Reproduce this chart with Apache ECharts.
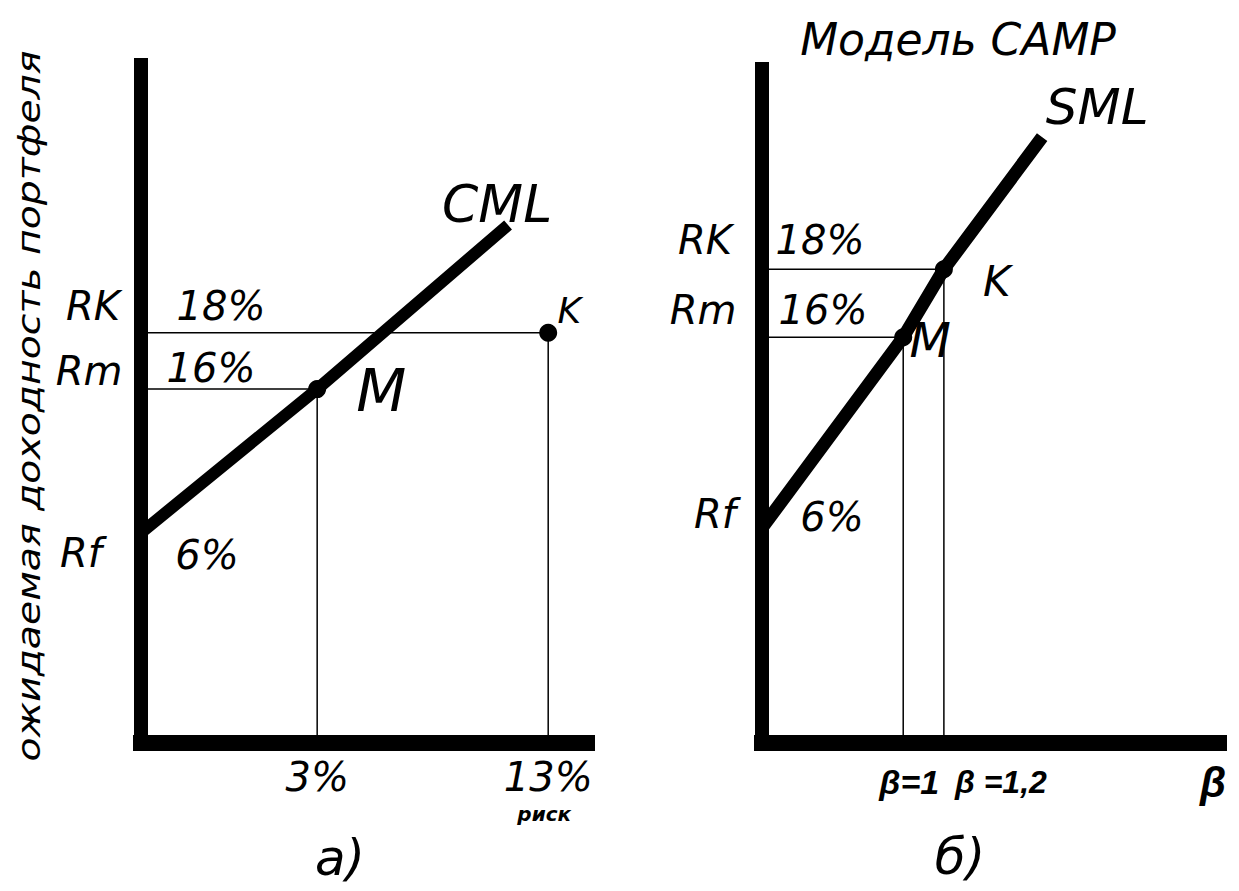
<!DOCTYPE html>
<html>
<head>
<meta charset="utf-8">
<title>CML и SML</title>
<script src="https://cdn.jsdelivr.net/npm/echarts@6.0.0/dist/echarts.min.js"></script>
<style>
    html, body { margin: 0; padding: 0; background: #fff; }
    #main { width: 1239px; height: 891px; }
</style>
</head>
<body>
<div id="main"></div>
<script>
// схема не в масштабе: координаты точек даны в условных единицах осей (0..100)
// уровни доходности: Rf, Rm, RK
var levelNames = ['Rf', 'Rm', 'RK'];
var levelValues = ['6%', '16%', '18%'];
var levelA = [31.0, 52.2, 60.5];     // панель а)
var levelB = [31.9, 60.2, 70.3];     // панель б)

// а) риск портфелей M и K
var riskA = [39.5, 91.3];
var riskLabels = ['3%', '13%'];
var cmlEnd = [82.3, 76.4];

// б) бета портфелей M и K
var betaB = [30.9, 39.8];
var betaLabels = ['β=1', 'β =1,2'];
var smlEnd = [61.3, 89.9];

var FONT = '"DejaVu Sans", sans-serif';
var LFONT = '"Liberation Sans", Arial, sans-serif';

// подпись-точка: текст, сдвиг в пикселях, размер, жирный, шрифт
function lab(pt, text, dx, dy, size, bold, family) {
    return {
        value: pt,
        label: { formatter: text, offset: [dx, dy], fontSize: size, color: '#000',
            fontFamily: family || FONT, fontWeight: bold ? 'bold' : 'normal' }
    };
}

function axisLine(w) {
    return { show: true, onZero: false, lineStyle: { color: '#000', width: w, cap: 'square' } };
}

function mkAxes(idx) {
    return {
        x: { type: 'value', gridIndex: idx, min: 0, max: 100, axisLine: axisLine(16),
            axisTick: { show: false }, axisLabel: { show: false }, splitLine: { show: false } },
        y: { type: 'value', gridIndex: idx, min: 0, max: 100, axisLine: axisLine(14),
            axisTick: { show: false }, axisLabel: { show: false }, splitLine: { show: false } }
    };
}

var axA = mkAxes(0), axB = mkAxes(1);

var thin = { color: '#000', width: 1.5 };
var labelBase = { show: true, position: 'inside', color: '#000', fontFamily: FONT, fontStyle: 'italic' };
var hidden = { color: 'rgba(0,0,0,0)', opacity: 1 };

// точки панели а)
var mA = [riskA[0], levelA[1]];
var kA = [riskA[1], levelA[2]];
// точки панели б)
var mB = [betaB[0], levelB[1]];
var kB = [betaB[1], levelB[2]];

var labelsA = [
    lab([0, levelA[2]], levelNames[2], -48, -27, 40),
    lab([0, levelA[1]], levelNames[1], -52, -18, 40),
    lab([0, levelA[0]], levelNames[0], -60, 20, 40),
    lab([0, levelA[2]], levelValues[2], 80, -27, 40),
    lab([0, levelA[1]], levelValues[1], 70, -21, 40),
    lab([0, levelA[0]], levelValues[0], 66, 22, 40),
    lab(mA, 'M', 64, 2, 58),
    lab(kA, 'K', 21, -22, 36),
    lab(cmlEnd, 'CML', -11, -21, 52),
    lab([riskA[0], 0], riskLabels[0], 0, 34, 40),
    lab([riskA[1], 0], riskLabels[1], 0, 34, 40),
    lab([riskA[1], 0], 'риск', -4, 71, 20, true)
];

var labelsB = [
    lab([0, levelB[2]], levelNames[2], -57, -29, 40),
    lab([0, levelB[1]], levelNames[1], -59, -27, 40),
    lab([0, levelB[0]], levelNames[0], -47, -14, 40),
    lab([0, levelB[2]], levelValues[2], 58, -29, 40),
    lab([0, levelB[1]], levelValues[1], 61, -27, 40),
    lab([0, levelB[0]], levelValues[0], 70, -11, 40),
    lab(mB, 'M', 27, 3, 48),
    lab(kB, 'K', 53, 12, 42),
    lab(smlEnd, 'SML', 55, -30, 50),
    lab([betaB[0], 0], betaLabels[0], 6, 39, 34, true, LFONT),
    lab([betaB[1], 0], betaLabels[1], 57, 39, 32, true, LFONT),
    lab([100, 0], 'β', -6, 39, 42, true, LFONT)
];

var myChart = echarts.init(document.getElementById('main'), null, { renderer: 'svg' });

var option = {
    animation: false,
    backgroundColor: '#fff',
    grid: [
        { left: 141, top: 65, right: 652, bottom: 148 },
        { left: 762, top: 69, right: 20, bottom: 148 }
    ],
    xAxis: [axA.x, axB.x],
    yAxis: [axA.y, axB.y],
    graphic: [
        { type: 'text', x: 29, y: 406, rotation: Math.PI / 2, scaleX: 1.23,
            style: { text: 'ожидаемая доходность портфеля', font: 'italic 32px ' + FONT, fill: '#000',
                align: 'center', verticalAlign: 'middle', textAlign: 'center', textVerticalAlign: 'middle' } },
        { type: 'text', x: 958, y: 39,
            style: { text: 'Модель CAMP', font: 'italic 44px ' + FONT, fill: '#000',
                align: 'center', verticalAlign: 'middle', textAlign: 'center', textVerticalAlign: 'middle' } },
        { type: 'text', x: 340, y: 858,
            style: { text: 'а)', font: 'italic 50px ' + FONT, fill: '#000',
                align: 'center', verticalAlign: 'middle', textAlign: 'center', textVerticalAlign: 'middle' } },
        { type: 'text', x: 960, y: 857,
            style: { text: 'б)', font: 'italic 50px ' + FONT, fill: '#000',
                align: 'center', verticalAlign: 'middle', textAlign: 'center', textVerticalAlign: 'middle' } }
    ],
    series: [
        // ---- а) CML ----
        { type: 'line', xAxisIndex: 0, yAxisIndex: 0, symbol: 'none', silent: true,
            data: [[0, levelA[2]], kA, [riskA[1], 0]], lineStyle: thin },
        { type: 'line', xAxisIndex: 0, yAxisIndex: 0, symbol: 'none', silent: true,
            data: [[0, levelA[1]], mA, [riskA[0], 0]], lineStyle: thin },
        { name: 'CML', type: 'line', xAxisIndex: 0, yAxisIndex: 0, symbol: 'none', silent: true, z: 5,
            data: [[0, levelA[0]], mA, cmlEnd], lineStyle: { color: '#000', width: 12 } },
        { type: 'scatter', xAxisIndex: 0, yAxisIndex: 0, symbolSize: 18, z: 6, silent: true,
            itemStyle: { color: '#000', opacity: 1 }, data: [mA, kA] },
        { type: 'scatter', xAxisIndex: 0, yAxisIndex: 0, symbolSize: 1, z: 7, silent: true,
            itemStyle: hidden, label: labelBase, data: labelsA },

        // ---- б) SML ----
        { type: 'line', xAxisIndex: 1, yAxisIndex: 1, symbol: 'none', silent: true,
            data: [[0, levelB[2]], kB, [betaB[1], 0]], lineStyle: thin },
        { type: 'line', xAxisIndex: 1, yAxisIndex: 1, symbol: 'none', silent: true,
            data: [[0, levelB[1]], mB, [betaB[0], 0]], lineStyle: thin },
        { name: 'SML', type: 'line', xAxisIndex: 1, yAxisIndex: 1, symbol: 'none', silent: true, z: 5,
            data: [[0, levelB[0]], mB, kB, smlEnd], lineStyle: { color: '#000', width: 13 } },
        { type: 'scatter', xAxisIndex: 1, yAxisIndex: 1, symbolSize: 18, z: 6, silent: true,
            itemStyle: { color: '#000', opacity: 1 }, data: [mB, kB] },
        { type: 'scatter', xAxisIndex: 1, yAxisIndex: 1, symbolSize: 1, z: 7, silent: true,
            itemStyle: hidden, label: labelBase, data: labelsB }
    ]
};
myChart.setOption(option);
</script>
</body>
</html>
